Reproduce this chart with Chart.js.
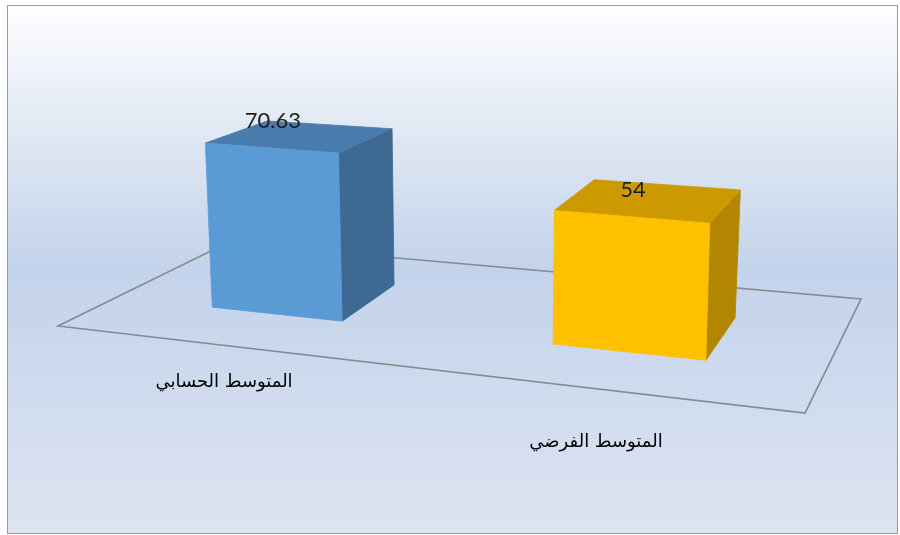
<!DOCTYPE html>
<html>
<head>
<meta charset="utf-8">
<title>المتوسط الحسابي والمتوسط الفرضي</title>
<script src="https://cdn.jsdelivr.net/npm/chart.js@4.4.1/dist/chart.umd.min.js"></script>
<style>
  body { margin: 0; background: #fff; }
  canvas { display: block; }
</style>
</head>
<body>
<canvas id="chart" width="900" height="535"></canvas>
<script>
var labels = ['المتوسط الحسابي', 'المتوسط الفرضي'];
var values = [70.63, 54];
var yMax = 100;

var faceColors = ['#5b9bd5', '#ffc000'];
var topColors = ['#497cad', '#cc9a00'];
var sideColors = ['#3e6992', '#b38600'];

// floor of the 3d plot box: front-left, front-right, back-right, back-left
var floor = [[58, 326], [805, 413], [861, 299], [227, 243]];
// how far a column of yMax units reaches up from each of those corners
var rise = [[-15.4, -243.3], [9.1, -273.8], [15.6, -230.8], [-8.9, -200.3]];
var depthFront = 0.35, depthBack = 0.74;
var persp = 1.176;            // left side of the box is further from the eye

// position along the category axis (0..1) -> position across the floor
function warpU(u) {
  return u / (u + persp * (1 - u)) + 0.004;
}

// (u along categories, w into the page, h in value units) -> screen
function project(u, w, h) {
  var k = [(1 - u) * (1 - w), u * (1 - w), u * w, (1 - u) * w];
  var x = 0, y = 0;
  for (var i = 0; i < 4; i++) {
    x += k[i] * (floor[i][0] + rise[i][0] * h / yMax);
    y += k[i] * (floor[i][1] + rise[i][1] * h / yMax);
  }
  return {x: x, y: y};
}

function poly(ctx, pts, color) {
  ctx.beginPath();
  ctx.moveTo(pts[0].x, pts[0].y);
  for (var i = 1; i < pts.length; i++) ctx.lineTo(pts[i].x, pts[i].y);
  ctx.closePath();
  ctx.fillStyle = color;
  ctx.fill();
  ctx.strokeStyle = color;
  ctx.lineWidth = 0.8;
  ctx.stroke();
}

var box3d = {
  id: 'box3d',
  beforeDraw: function(chart) {
    var ctx = chart.ctx;
    ctx.save();
    ctx.fillStyle = '#fff';
    ctx.fillRect(0, 0, chart.width, chart.height);
    var g = ctx.createLinearGradient(0, 5, 0, 534);
    g.addColorStop(0, '#fefeff');
    g.addColorStop(0.08, '#f5f7fb');
    g.addColorStop(0.25, '#dfe7f3');
    g.addColorStop(0.5, '#c3d3eb');
    g.addColorStop(1, '#dde4f2');
    ctx.fillStyle = g;
    ctx.fillRect(7.5, 5.5, 890, 528);
    ctx.strokeStyle = '#9a9a9a';
    ctx.lineWidth = 1;
    ctx.strokeRect(7.5, 5.5, 890, 528);
    ctx.restore();
  },
  beforeDatasetsDraw: function(chart) {
    var ctx = chart.ctx, area = chart.chartArea;
    var meta = chart.getDatasetMeta(0);
    ctx.save();

    // floor outline
    ctx.beginPath();
    ctx.moveTo(floor[0][0], floor[0][1]);
    for (var i = 1; i < 4; i++) ctx.lineTo(floor[i][0], floor[i][1]);
    ctx.closePath();
    ctx.strokeStyle = '#878a90';
    ctx.lineWidth = 1.7;
    ctx.stroke();

    meta.data.forEach(function(bar, i) {
      var p = bar.getProps(['x', 'y', 'base', 'width'], true);
      var u0 = warpU((p.x - p.width / 2 - area.left) / area.width);
      var u1 = warpU((p.x + p.width / 2 - area.left) / area.width);
      var h = (p.base - p.y) / area.height * yMax;
      var w0 = depthFront, w1 = depthBack;

      poly(ctx, [project(u1, w0, 0), project(u1, w1, 0), project(u1, w1, h), project(u1, w0, h)], sideColors[i]);
      poly(ctx, [project(u0, w0, h), project(u1, w0, h), project(u1, w1, h), project(u0, w1, h)], topColors[i]);
      poly(ctx, [project(u0, w0, 0), project(u1, w0, 0), project(u1, w0, h), project(u0, w0, h)], faceColors[i]);

      // value above the column
      var uc = (u0 + u1) / 2;
      var t = project(uc, w0, h);
      ctx.fillStyle = '#1e1e1e';
      ctx.font = '22px Lato';
      ctx.textAlign = 'center';
      ctx.textBaseline = 'middle';
      ctx.fillText(String(values[i]), t.x + 1, t.y - 27);

      // category name under the front edge
      var b = project(uc, 0, 0);
      ctx.font = '18px "DejaVu Sans"';
      ctx.fillStyle = '#000';
      ctx.fillText(chart.data.labels[i], b.x - 3, b.y + 37 + 32 * (uc - 0.225));
    });

    ctx.restore();
    return false;
  }
};

new Chart(document.getElementById('chart'), {
  type: 'bar',
  data: {
    labels: labels,
    datasets: [{
      data: values,
      backgroundColor: faceColors,
      categoryPercentage: 0.5,
      barPercentage: 0.8
    }]
  },
  options: {
    responsive: false,
    animation: false,
    layout: { padding: 0 },
    plugins: { legend: { display: false }, tooltip: { enabled: false } },
    scales: {
      x: { display: false, offset: true },
      y: { display: false, min: 0, max: yMax }
    }
  },
  plugins: [box3d]
});
</script>
</body>
</html>
